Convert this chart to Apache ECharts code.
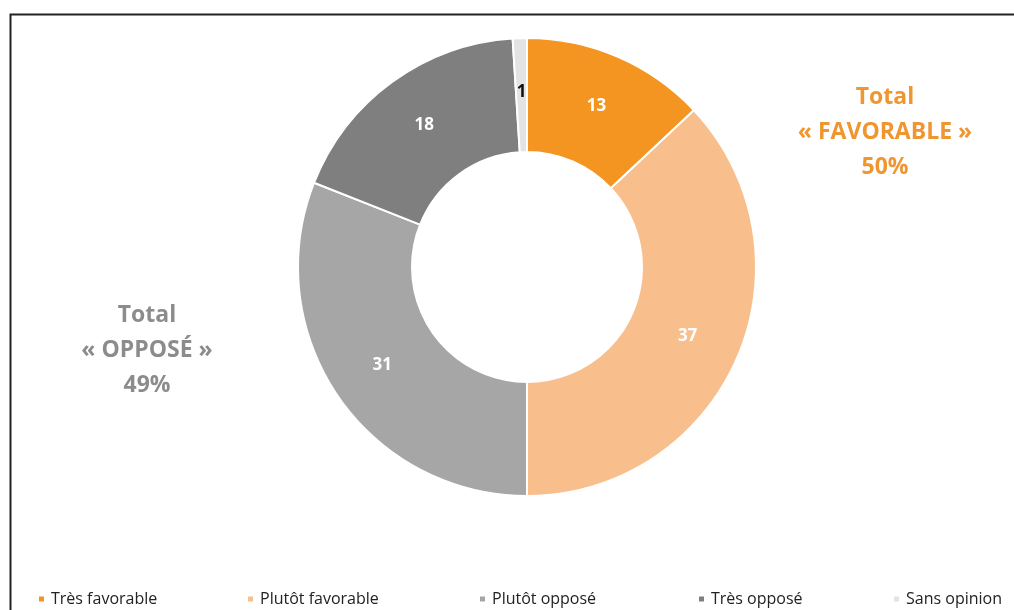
<!DOCTYPE html>
<html><head><meta charset="utf-8">
<script src="https://cdn.jsdelivr.net/npm/echarts@6/dist/echarts.min.js"></script>
<style>html,body{margin:0;padding:0;background:#fff;}#c{width:1014px;height:610px;}</style>
</head><body><div id="c"></div>
<script>
const categories = ['Très favorable','Plutôt favorable','Plutôt opposé','Très opposé','Sans opinion'];
const values = [13, 37, 31, 18, 1];
const colors = ['#F39520','#F8BF8D','#A6A6A6','#7F7F7F','#E3E3E3'];
const labelColors = ['#fff','#fff','#fff','#fff','#111'];
const totalFav = ['Total','« FAVORABLE »','50%'];
const totalOpp = ['Total','« OPPOSÉ »','49%'];
const legendLeft = [32, 241, 473, 692, 887];

const chart = echarts.init(document.getElementById('c'));
const font = 'Open Sans, Liberation Sans, sans-serif';
const legends = categories.map((n,i)=>({
  data:[n], left: legendLeft[i], top: 586, itemWidth: 7, itemHeight: 7, itemGap: 0,
  icon: 'rect', selectedMode: false,
  textStyle:{fontFamily: font, fontSize: 16, color:'#222', padding:[0,0,0,1]}
}));
const option = {
  animation:false,
  color: colors,
  legend: legends,
  graphic: [
    {type:'rect', shape:{x:10.5,y:14.5,width:1100,height:700}, style:{fill:'none', stroke:'#222', lineWidth:2}},
    {type:'text', style:{text: totalFav.join('\n'), x: 885, y: 80, textAlign:'center', fill:'#EF9630', font:'bold 23px ' + font, lineHeight: 35}},
    {type:'text', style:{text: totalOpp.join('\n'), x: 147, y: 298, textAlign:'center', fill:'#8C8C8C', font:'bold 23px ' + font, lineHeight: 35}}
  ],
  series:[{
    type:'pie',
    center:[527,267],
    radius:[115,229],
    startAngle:90,
    clockwise:true,
    label:{show:true, position:'inside', formatter:'{c}', fontFamily: font, fontWeight:'bold', fontSize:17},
    labelLine:{show:false},
    itemStyle:{borderColor:'#fff', borderWidth:2},
    emphasis:{disabled:true},
    data: categories.map((n,i)=>({name:n, value:values[i], label:{color:labelColors[i]}}))
  }]
};
chart.setOption(option);
</script></body></html>
